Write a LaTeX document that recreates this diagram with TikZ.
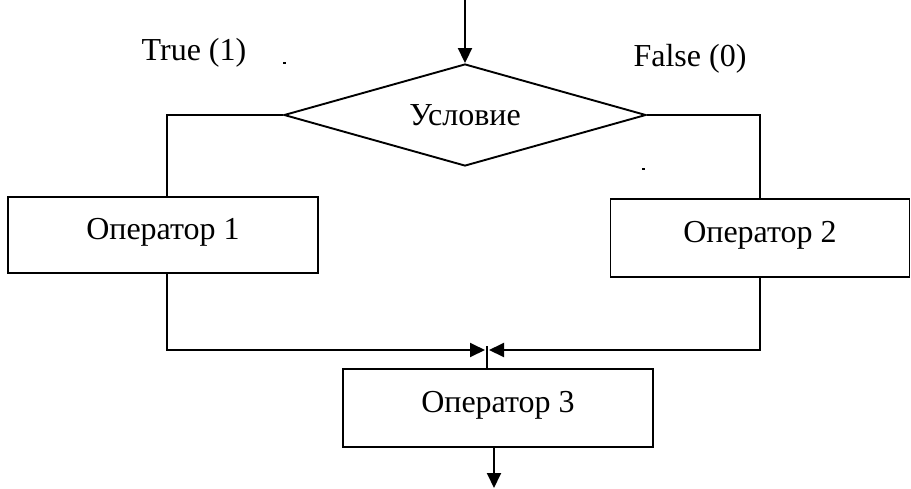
\documentclass[tikz,border=0pt]{standalone}
\usepackage{fontspec}
\setmainfont{Liberation Serif}
\usetikzlibrary{shapes.geometric,arrows.meta}
\begin{document}
\begin{tikzpicture}[x=1pt,y=-1pt,
  line width=1.9pt,
  txt/.style={font=\fontsize{32}{38}\selectfont},
  box/.style={draw,rectangle,inner sep=0pt,txt,text height=22pt,text depth=14pt},
  lbl/.style={txt,inner sep=0pt},
  dotmark/.style={fill,draw=none,inner sep=0pt,minimum width=3pt,minimum height=2.5pt},
  arr/.style={-{Triangle[length=15pt,width=14pt]}}]
\useasboundingbox (0,0) rectangle (911,488);
% shapes
\node[draw,diamond,inner sep=0pt,minimum width=362pt,minimum height=102pt,aspect=3.55,txt] (d) at (465,115) {Условие};
\node[box,minimum width=310pt,minimum height=76pt] (b1) at (163,235) {Оператор 1};
\node[box,minimum width=299pt,minimum height=78pt] (b2) at (760,238) {Оператор 2};
\node[box,minimum width=310pt,minimum height=78pt] (b3) at (498,408) {Оператор 3};
% labels
\node[lbl,anchor=base] (t) at (194,60) {True (1)};
\node[lbl,anchor=base] (f) at (690,66) {False (0)};
\node[dotmark] (dot1) at (284,63) {};
\node[dotmark] (dot2) at (643,169) {};
% coordinates
\coordinate (top) at (465,0);
\coordinate (mL) at (485,350);
\coordinate (mR) at (489,350);
\coordinate (tk) at (487,346);
\coordinate (out) at (494,488);
% connectors
\draw[arr] (top) -- (d.north);
\draw (d.west) -| ([xshift=4pt]b1.north);
\draw (d.east) -| (b2.north);
\draw[arr] ([xshift=4pt]b1.south) |- (mL);
\draw[arr] (b2.south) |- (mR);
\draw (tk) -- (tk |- b3.north);
\draw[arr] (b3.south -| out) -- (out);
\end{tikzpicture}
\end{document}
